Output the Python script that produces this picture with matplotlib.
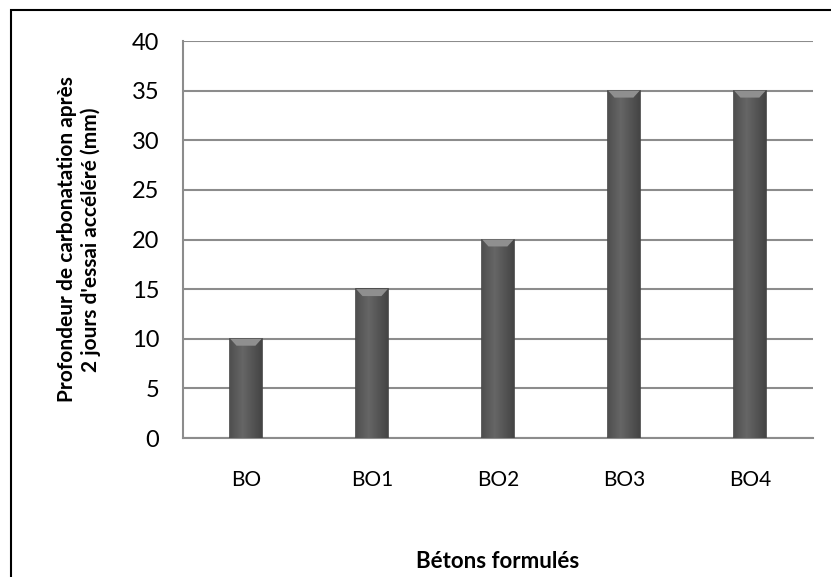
import numpy as np
import matplotlib.pyplot as plt
from matplotlib.patches import Rectangle

plt.rcParams['font.family'] = ['Lato', 'DejaVu Sans']

betons = ['BO', 'BO1', 'BO2', 'BO3', 'BO4']
profondeur = [10, 15, 20, 35, 35]

fig = plt.figure(figsize=(8.31, 5.77), dpi=100)
ax = fig.add_axes([0.2202, 0.2409, 0.758, 0.688])

x = np.arange(len(betons))
bars = ax.bar(x, profondeur, width=0.25, color='#5a5a5a', edgecolor='#444444',
              linewidth=1.2, zorder=3)

# gradient shading on the bars
t = np.linspace(0, 1, 64)
grad = 0.40 - 0.13 * np.abs(t - 0.4) / 0.6
grad = np.vstack([grad, grad])
for b in bars:
    x0, w, h = b.get_x(), b.get_width(), b.get_height()
    im = ax.imshow(grad, cmap='gray', vmin=0, vmax=1, aspect='auto',
                   extent=[x0, x0 + w, 0, h], zorder=4)
    im.set_clip_path(b)
    # lighter cap at the top
    ax.fill([x0, x0 + w, x0 + w * 0.8, x0 + w * 0.2],
            [h, h, h - 0.7, h - 0.7], color='#8f8f8f', zorder=5, lw=0)

ax.set_xlim(-0.5, len(betons) - 0.5)
ax.set_ylim(0, 40)
ax.set_yticks(range(0, 41, 5))
ax.set_xticks(x)
ax.set_xticklabels(betons, fontsize=15)
ax.tick_params(axis='y', labelsize=17, length=0, pad=17)
ax.tick_params(axis='x', length=0, pad=23)
ax.yaxis.grid(True, color='#8c8c8c', linewidth=1.5, zorder=0)
ax.set_axisbelow(True)
for s in ['top', 'right']:
    ax.spines[s].set_visible(False)
for s in ['left', 'bottom']:
    ax.spines[s].set_color('#8c8c8c')
    ax.spines[s].set_linewidth(1.5)

ax.set_ylabel("Profondeur de carbonatation après\n2 jours d'essai accéléré (mm)",
              fontsize=15, fontweight='bold', labelpad=22)
ax.set_xlabel('Bétons formulés', fontsize=16, fontweight='bold', labelpad=44)

fig.patches.append(Rectangle((11 / 831, -0.05), 1.1, 1 - 10 / 577 + 0.05,
                             transform=fig.transFigure, fill=False,
                             edgecolor='black', linewidth=1.5))

fig.savefig('out.png', dpi=100)
